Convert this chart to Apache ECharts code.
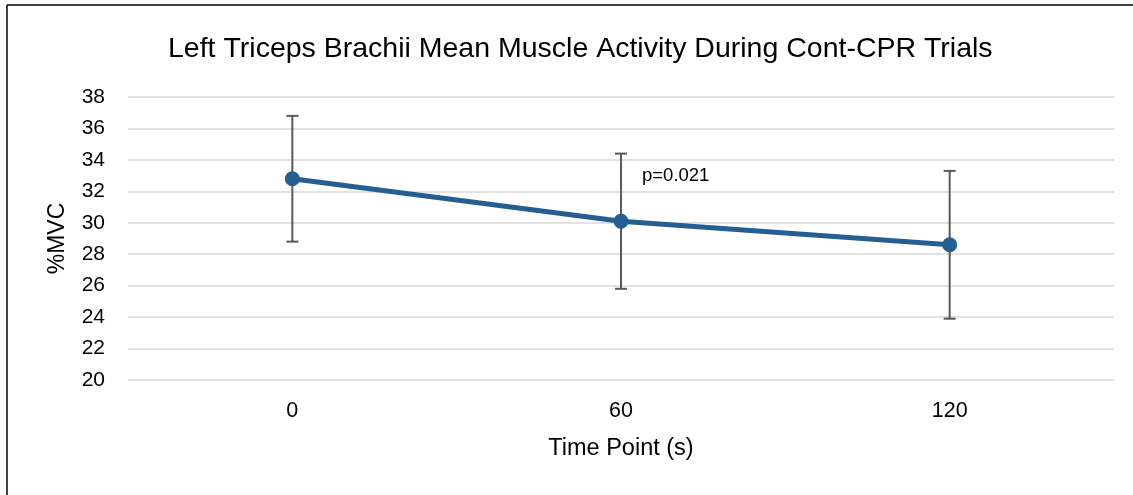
<!DOCTYPE html>
<html><head><meta charset="utf-8">
<script src="https://cdn.jsdelivr.net/npm/echarts@6/dist/echarts.min.js"></script>
<style>html,body{margin:0;padding:0;background:#fff}#c{width:1133px;height:495px}</style>
</head><body><div id="c"></div>
<script>
const categories = ['0', '60', '120'];
const meanValues = [32.8, 30.1, 28.6];
const errorValues = [4.0, 4.3, 4.7];
const yTicks = {min: 20, max: 38, interval: 2};
const annotationText = 'p=0.021';
const annotationAt = ['60', 33.0];

const FONT = 'Liberation Sans';
const chart = echarts.init(document.getElementById('c'), null, {renderer: 'canvas'});
const errData = categories.map((c, i) => [i, meanValues[i] - errorValues[i], meanValues[i] + errorValues[i]]);

chart.setOption({
  backgroundColor: '#fff',
  animation: false,
  title: {
    text: 'Left Triceps Brachii Mean Muscle Activity During Cont-CPR Trials',
    left: 163, top: 30,
    textStyle: {fontFamily: FONT, fontSize: 28.5, fontWeight: 'normal', color: '#000'}
  },
  graphic: [
    {type: 'line', shape: {x1: 7, y1: 5, x2: 7, y2: 495}, style: {stroke: '#000', lineWidth: 1.5}},
    {type: 'line', shape: {x1: 7, y1: 5, x2: 1133, y2: 5}, style: {stroke: '#000', lineWidth: 1.5}}
  ],
  grid: {left: 128, right: 19, top: 97, bottom: 115},
  xAxis: {
    type: 'category', data: categories, boundaryGap: true,
    axisLine: {show: false}, axisTick: {show: false},
    axisLabel: {fontFamily: FONT, fontSize: 21.5, color: '#000', margin: 20},
    name: 'Time Point (s)', nameLocation: 'middle', nameGap: 57,
    nameTextStyle: {fontFamily: FONT, fontSize: 23.5, color: '#000'}
  },
  yAxis: {
    type: 'value', min: yTicks.min, max: yTicks.max, interval: yTicks.interval,
    axisLine: {show: false}, axisTick: {show: false},
    axisLabel: {fontFamily: FONT, fontSize: 21, color: '#000', margin: 23},
    splitLine: {lineStyle: {color: '#d9d9d9', width: 1.5}},
    name: '%MVC', nameLocation: 'middle', nameGap: 59,
    nameTextStyle: {fontFamily: FONT, fontSize: 23, color: '#000'}
  },
  series: [
    {
      type: 'custom', data: errData, z: 1,
      renderItem: function (params, api) {
        const x = api.value(0);
        const lo = api.coord([x, api.value(1)]);
        const hi = api.coord([x, api.value(2)]);
        const w = 6;
        const st = {stroke: '#595959', lineWidth: 2};
        return {type: 'group', children: [
          {type: 'line', shape: {x1: lo[0], y1: lo[1], x2: hi[0], y2: hi[1]}, style: st},
          {type: 'line', shape: {x1: lo[0] - w, y1: lo[1], x2: lo[0] + w, y2: lo[1]}, style: st},
          {type: 'line', shape: {x1: hi[0] - w, y1: hi[1], x2: hi[0] + w, y2: hi[1]}, style: st}
        ]};
      }
    },
    {
      type: 'line', data: meanValues, z: 3,
      symbol: 'circle', symbolSize: 15,
      lineStyle: {color: '#255e91', width: 5},
      itemStyle: {color: '#255e91'},
      markPoint: {
        symbol: 'circle', symbolSize: 0,
        data: [{coord: annotationAt, value: annotationText}],
        label: {show: true, position: 'right', distance: 21, formatter: annotationText,
          fontFamily: FONT, fontSize: 18.5, color: '#000'}
      }
    }
  ]
});
</script></body></html>
